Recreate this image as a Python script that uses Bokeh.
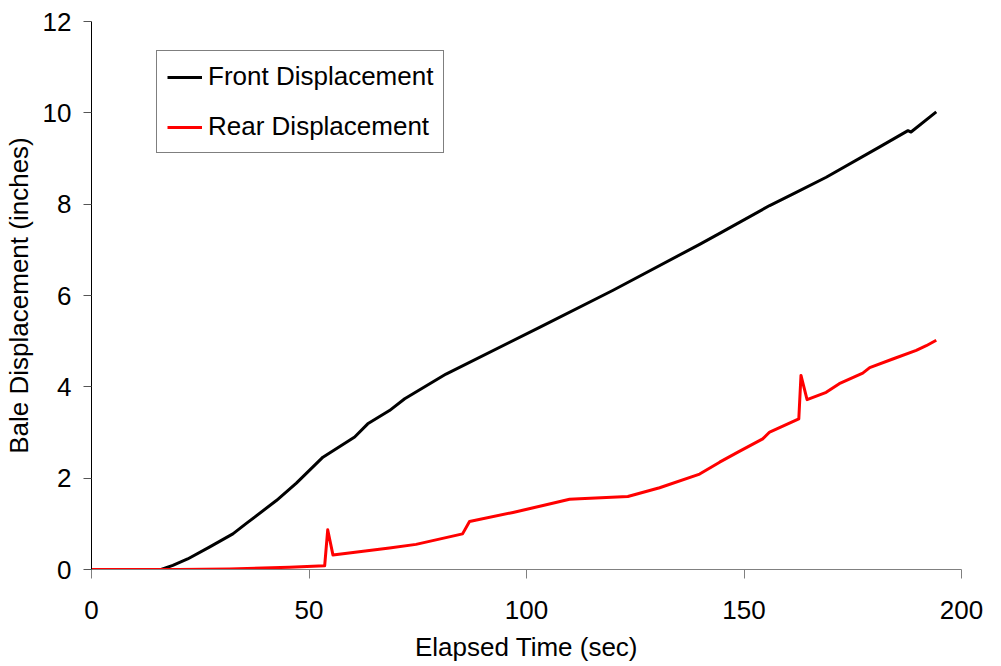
from bokeh.plotting import figure
from bokeh.models import Range1d, FixedTicker, Legend, LegendItem
from bokeh.embed import file_html
from bokeh.resources import INLINE

# Data
front_t = [0, 16.0, 18.7, 22.1, 27.1, 32.5, 35.6, 42.5, 47.1, 53.2, 60.5, 63.5, 68.5, 72.0,
           81.5, 103.0, 119.8, 139.8, 144.4, 155.9, 162.0, 168.9, 181.1, 187.7, 188.4, 194.2]
front_y = [0, 0, 0.09, 0.23, 0.49, 0.78, 1.01, 1.51, 1.89, 2.46, 2.90, 3.19, 3.48, 3.74,
           4.28, 5.30, 6.11, 7.12, 7.36, 7.97, 8.26, 8.59, 9.25, 9.61, 9.58, 10.02]

rear_t = [0, 20, 31.7, 45.5, 53.6, 54.3, 55.5, 68.5, 74.6, 85.3, 86.9, 96.9, 103.8, 109.9,
          112.2, 123.3, 130.6, 139.8, 144.4, 148.6, 154.3, 155.9, 162.6, 163.1, 164.5, 168.9,
          171.9, 177.3, 178.9, 184.2, 189.6, 191.9, 194.2]
rear_y = [0, 0, 0.01, 0.05, 0.08, 0.87, 0.32, 0.47, 0.55, 0.78, 1.05, 1.25, 1.40, 1.54,
          1.55, 1.60, 1.79, 2.09, 2.35, 2.57, 2.86, 3.01, 3.30, 4.25, 3.72, 3.88,
          4.07, 4.30, 4.42, 4.61, 4.80, 4.90, 5.02]

x_ticks = [0, 50, 100, 150, 200]
y_ticks = [0, 2, 4, 6, 8, 10, 12]

FONT = "Liberation Sans"
FS = "26px"

p = figure(frame_width=870, frame_height=548, output_backend="svg", toolbar_location=None,
           x_range=Range1d(0, 200), y_range=Range1d(0, 12),
           min_border_left=84, min_border_top=21, min_border_right=30, min_border_bottom=90)
p.outline_line_color = None
p.xgrid.grid_line_color = None
p.ygrid.grid_line_color = None
p.background_fill_color = "white"

r_front = p.line(front_t, front_y, line_color="black", line_width=3, line_join="round")
r_rear = p.line(rear_t, rear_y, line_color="#ff0000", line_width=3, line_join="round")

# X axis
xa = p.xaxis[0]
xa.ticker = FixedTicker(ticks=x_ticks)
xa.axis_label = "Elapsed Time (sec)"
xa.axis_line_color = "#808080"
xa.major_tick_line_color = "#808080"
xa.major_tick_out = 9
xa.major_tick_in = 0
xa.minor_tick_line_color = None
xa.major_label_standoff = 22
xa.axis_label_standoff = 10
xa.major_label_text_font = FONT
xa.major_label_text_font_size = FS
xa.major_label_text_color = "black"
xa.axis_label_text_font = FONT
xa.axis_label_text_font_size = FS
xa.axis_label_text_font_style = "normal"
xa.axis_label_text_color = "black"

# Y axis
ya = p.yaxis[0]
ya.ticker = FixedTicker(ticks=y_ticks)
ya.axis_label = "Bale Displacement (inches)"
ya.axis_line_color = "black"
ya.major_tick_line_color = "#555555"
ya.major_tick_out = 8
ya.major_tick_in = 0
ya.minor_tick_line_color = None
ya.major_label_standoff = 12
ya.axis_label_standoff = 6
ya.major_label_text_font = FONT
ya.major_label_text_font_size = FS
ya.major_label_text_color = "black"
ya.axis_label_text_font = FONT
ya.axis_label_text_font_size = FS
ya.axis_label_text_font_style = "normal"
ya.axis_label_text_color = "black"

legend = Legend(items=[LegendItem(label="Front Displacement", renderers=[r_front]),
                       LegendItem(label="Rear Displacement", renderers=[r_rear])],
                location=(65, 416))
legend.label_text_font = FONT
legend.label_text_font_size = FS
legend.label_text_color = "black"
legend.glyph_width = 35
legend.glyph_height = 30
legend.label_height = 30
legend.label_standoff = 6
legend.padding = 10
legend.spacing = 19
legend.margin = 0
legend.border_line_color = "black"
legend.border_line_width = 1
legend.background_fill_color = "white"
legend.background_fill_alpha = 1.0
p.add_layout(legend)

open("out.html", "w").write(file_html(p, INLINE))
